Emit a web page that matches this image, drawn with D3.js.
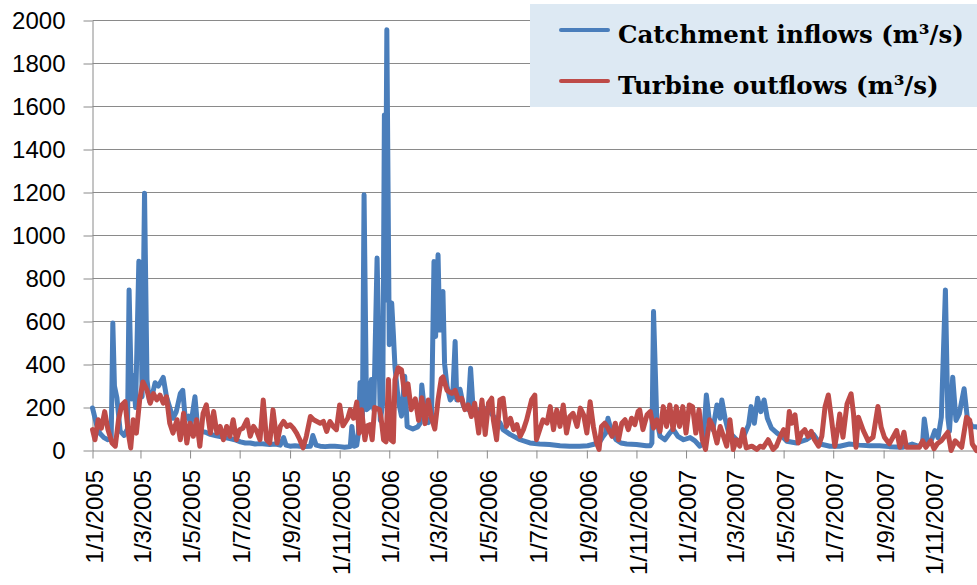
<!DOCTYPE html>
<html>
<head>
<meta charset="utf-8">
<script src="https://cdn.jsdelivr.net/npm/d3@7"></script>
<style>
  body { margin: 0; background: #fff; }
  svg { display: block; }
</style>
</head>
<body>
<div id="chart"></div>
<script>
// Daily flows: [day offset from 1/1/2005, m3/s]
const inflows = [
  [0,198],[5,120],[9,80],[14,60],[19,50],[23,55],[25,593],[27,300],[30,245],[34,90],[39,70],[43,100],[45,747],[48,240],
  [50,350],[53,200],[57,880],[59,870],[61,250],[64,1197],[67,330],[70,230],[73,250],[77,315],[81,300],[84,320],[87,340],
  [91,250],[95,200],[99,150],[103,180],[108,265],[111,280],[114,150],[118,160],[121,120],[126,250],[129,120],[132,90],
  [139,85],[145,75],[151,70],[157,65],[163,60],[169,55],[175,50],[182,40],[188,35],[194,35],[200,30],[206,32],[212,30],
  [218,28],[225,30],[231,25],[235,60],[238,25],[243,20],[249,22],[255,20],[261,18],[268,20],[271,70],[275,25],[280,20],
  [286,18],[292,20],[298,20],[304,18],[310,15],[317,18],[319,112],[322,20],[325,25],[327,80],[329,315],[332,160],
  [334,1189],[337,190],[340,200],[343,330],[346,190],[350,895],[354,140],[357,220],[359,1561],[360,700],[362,1957],
  [365,492],[368,686],[370,545],[372,390],[376,235],[380,160],[384,345],[387,112],[394,100],[400,110],[403,127],[405,305],
  [409,160],[413,130],[417,160],[420,879],[422,530],[425,910],[427,560],[431,740],[433,405],[436,300],[440,235],[443,250],
  [446,507],[448,235],[452,285],[456,210],[462,190],[465,383],[468,200],[472,175],[480,200],[489,180],[495,150],[501,130],
  [505,97],[514,74],[526,50],[538,35],[550,30],[562,28],[575,22],[587,20],[599,20],[609,22],[623,35],[627,60],[631,80],
  [634,150],[638,90],[644,50],[650,35],[657,30],[669,28],[681,22],[686,22],[688,35],[690,646],[694,143],[698,66],[704,50],
  [710,81],[714,100],[720,66],[727,50],[735,60],[741,45],[747,20],[751,35],[755,258],[759,127],[763,97],[768,212],
  [772,150],[774,235],[778,150],[782,89],[788,66],[794,43],[800,58],[807,120],[810,204],[814,127],[818,243],[822,181],
  [826,235],[830,150],[835,104],[842,81],[848,66],[854,43],[866,35],[878,50],[887,74],[895,30],[907,20],[919,20],[931,30],
  [943,25],[956,22],[968,22],[980,18],[996,15],[1008,30],[1017,18],[1021,40],[1023,147],[1027,40],[1032,50],[1036,93],
  [1040,60],[1044,155],[1049,747],[1052,155],[1054,90],[1058,341],[1062,140],[1066,170],[1072,287],[1076,150],[1082,110],
  [1087,110],[1094,100]
];

const outflows = [
  [0,97],[3,50],[7,143],[11,104],[15,181],[19,97],[24,35],[28,20],[32,143],[36,212],[40,227],[44,81],[47,12],[50,143],
  [54,81],[58,235],[62,319],[67,281],[71,220],[75,265],[79,235],[83,258],[87,220],[91,250],[95,127],[99,81],[104,143],
  [108,50],[112,173],[116,35],[120,127],[124,66],[128,143],[132,20],[136,173],[140,212],[145,81],[149,181],[153,81],
  [157,112],[161,50],[165,112],[169,66],[173,143],[177,50],[181,97],[185,104],[190,143],[194,66],[198,112],[202,89],
  [206,50],[210,235],[214,50],[218,35],[222,189],[227,35],[231,112],[235,135],[239,112],[243,120],[247,104],[251,81],
  [255,50],[259,12],[263,66],[268,158],[272,143],[276,135],[280,127],[284,135],[288,89],[292,135],[296,112],[300,97],
  [304,212],[308,115],[314,150],[317,190],[321,150],[325,225],[328,80],[331,190],[335,50],[338,115],[341,120],[344,50],
  [347,200],[353,190],[355,150],[358,50],[361,40],[364,330],[367,50],[370,40],[372,330],[376,385],[380,375],[384,260],
  [388,310],[392,190],[397,240],[401,140],[405,245],[409,125],[413,235],[417,150],[421,100],[425,235],[429,335],[431,342],
  [436,280],[442,265],[446,280],[450,235],[454,243],[458,190],[462,212],[466,158],[470,220],[475,81],[479,235],[483,74],
  [487,220],[491,243],[493,143],[497,50],[501,235],[505,243],[509,112],[514,150],[518,97],[522,120],[526,66],[530,97],
  [534,143],[540,235],[544,258],[546,50],[550,97],[554,143],[559,127],[563,204],[567,97],[571,189],[575,112],[579,212],
  [583,81],[587,158],[591,173],[596,112],[600,197],[604,166],[608,81],[612,227],[616,112],[620,35],[623,5],[626,112],
  [630,127],[634,104],[639,66],[643,127],[647,50],[651,127],[655,143],[659,97],[663,150],[667,120],[671,181],[673,189],
  [677,97],[682,166],[686,181],[690,104],[694,143],[698,89],[702,204],[706,112],[710,212],[714,97],[718,204],[722,112],
  [726,204],[730,81],[734,212],[738,204],[742,81],[746,189],[750,50],[754,5],[759,143],[763,112],[768,35],[772,112],
  [776,66],[780,20],[784,143],[788,5],[792,50],[796,20],[800,97],[804,12],[811,20],[817,5],[821,20],[825,15],[831,50],
  [837,5],[841,20],[846,66],[850,97],[854,50],[857,181],[860,127],[864,166],[868,35],[872,81],[876,97],[880,66],[884,89],
  [888,50],[893,20],[897,66],[901,204],[905,258],[909,143],[913,20],[917,112],[919,170],[923,62],[928,217],[933,264],
  [936,170],[939,15],[942,155],[948,93],[954,45],[960,62],[966,205],[970,108],[974,62],[980,31],[989,93],[993,15],
  [998,85],[1001,15],[1009,15],[1017,15],[1021,45],[1025,15],[1031,45],[1035,8],[1039,31],[1044,45],[1052,85],[1056,0],
  [1061,45],[1069,15],[1075,155],[1079,140],[1082,31],[1087,0],[1094,40]
];

const yTicks = [0, 200, 400, 600, 800, 1000, 1200, 1400, 1600, 1800, 2000];
const seriesNames = ["Catchment inflows (m³/s)", "Turbine outflows (m³/s)"];
const seriesColors = ["#4A7EBB", "#BE4B48"];

const width = 977;
const height = 585;
const startDate = new Date(Date.UTC(2005, 0, 1));
const endDate = new Date(Date.UTC(2007, 11, 31));

const svg = d3.select("#chart")
  .append("svg")
  .attr("width", width)
  .attr("height", height);

const x = d3.scaleUtc()
  .domain([startDate, endDate])
  .range([92.5, 982]);

const y = d3.scaleLinear()
  .domain([0, 2000])
  .range([450.5, 20.5]);

// gridlines
svg.append("g")
  .selectAll("line")
  .data(yTicks.filter(d => d > 0))
  .enter()
  .append("line")
  .attr("x1", 92.5)
  .attr("x2", width)
  .attr("y1", d => y(d))
  .attr("y2", d => y(d))
  .attr("stroke", "#8A8A8A")
  .attr("stroke-width", 1);

// y axis
const yAxis = svg.append("g")
  .attr("transform", "translate(92.5,0)")
  .call(d3.axisLeft(y).tickValues(yTicks).tickFormat(d3.format("d"))
    .tickSize(9).tickSizeOuter(0).tickPadding(18));
yAxis.select(".domain").attr("stroke", "#8A8A8A");
yAxis.selectAll(".tick line").attr("stroke", "#8A8A8A");
yAxis.selectAll("text")
  .style("font-family", "'Liberation Sans', Arial, sans-serif")
  .style("font-size", "24px")
  .style("fill", "#000");

// x axis, d/m/yyyy every two months
const fmt = d => `${d.getUTCDate()}/${d.getUTCMonth() + 1}/${d.getUTCFullYear()}`;
const xAxis = svg.append("g")
  .attr("transform", "translate(0,450.5)")
  .call(d3.axisBottom(x).ticks(d3.utcMonth.every(2)).tickFormat(fmt).tickSize(8).tickSizeOuter(0));
xAxis.select(".domain").attr("stroke", "#8A8A8A");
xAxis.selectAll(".tick line").attr("stroke", "#8A8A8A");
xAxis.selectAll("text")
  .attr("transform", "rotate(-90)")
  .attr("text-anchor", "end")
  .attr("x", -19.5)
  .attr("y", 0)
  .attr("dy", "0.4em")
  .style("font-family", "'Liberation Sans', Arial, sans-serif")
  .style("font-size", "24px")
  .style("fill", "#000");

// lines
const line = d3.line()
  .x(d => x(d3.utcDay.offset(startDate, d[0])))
  .y(d => y(d[1]));

[inflows, outflows].forEach((series, i) => {
  svg.append("path")
    .datum(series)
    .attr("fill", "none")
    .attr("stroke", seriesColors[i])
    .attr("stroke-width", 5)
    .attr("stroke-linejoin", "round")
    .attr("stroke-linecap", "round")
    .attr("d", line);
});

// legend
const legend = svg.append("g");
legend.append("rect")
  .attr("x", 530)
  .attr("y", 4)
  .attr("width", 460)
  .attr("height", 103)
  .attr("fill", "#DDE9F3");

seriesNames.forEach((name, i) => {
  const ly = 30 + i * 51;
  legend.append("line")
    .attr("x1", 561)
    .attr("x2", 608)
    .attr("y1", ly)
    .attr("y2", ly)
    .attr("stroke", seriesColors[i])
    .attr("stroke-width", 4)
    .attr("stroke-linecap", "round");
  legend.append("text")
    .attr("x", 618)
    .attr("y", ly + 13)
    .style("font-family", "'DejaVu Serif', serif")
    .style("font-weight", "bold")
    .style("font-size", "24.5px")
    .style("fill", "#000")
    .text(name);
});
</script>
</body>
</html>
